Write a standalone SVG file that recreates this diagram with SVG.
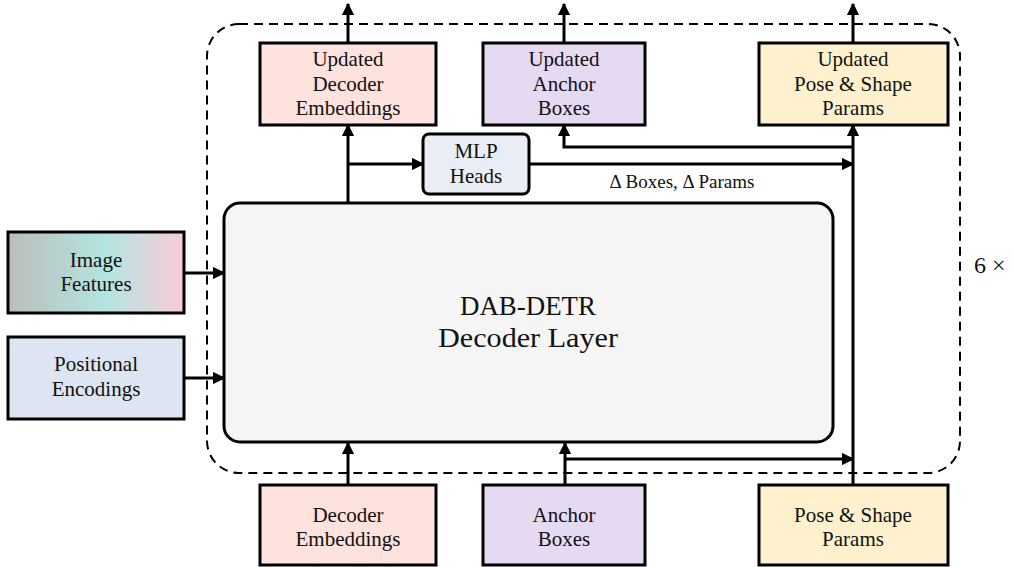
<svg xmlns="http://www.w3.org/2000/svg" width="1013" height="567" viewBox="0 0 1013 567">
  <style>
    .box { stroke: #000; stroke-width: 3; }
    .lbl { font-family: "Liberation Serif", "DejaVu Serif", serif; font-size: 21px; fill: #111; text-anchor: middle; }
    .big { font-family: "Liberation Serif", "DejaVu Serif", serif; font-size: 27px; fill: #111; text-anchor: middle; }
    .wire { fill: none; stroke: #000; stroke-width: 3; }
    .arr { marker-end: url(#head); }
  </style>
  <defs>
    <marker id="head" viewBox="0 0 10 10" refX="9" refY="5" markerWidth="4.2" markerHeight="4.2" markerUnits="strokeWidth" orient="auto">
      <path d="M0,0 L10,5 L0,10 Z" fill="#000"/>
    </marker>
    <linearGradient id="featGrad" x1="0" y1="0" x2="1" y2="0">
      <stop offset="0" stop-color="#bcbcbc"/>
      <stop offset="0.55" stop-color="#b2e5e1"/>
      <stop offset="1" stop-color="#f9cbd9"/>
    </linearGradient>
  </defs>

  <!-- repeated block boundary -->
  <rect id="repeat-frame" x="207" y="24" width="753" height="449" rx="32" fill="none" stroke="#000" stroke-width="2" stroke-dasharray="9,6"/>
  <text id="repeat-count" x="974" y="273" style="font-family:'Liberation Serif','DejaVu Serif',serif;font-size:24px;fill:#111">6 ×</text>

  <!-- connectors -->
  <g id="connectors">
    <line class="wire arr" x1="348" y1="43" x2="348" y2="4"/>
    <line class="wire arr" x1="564" y1="43" x2="564" y2="4"/>
    <line class="wire arr" x1="853" y1="43" x2="853" y2="4"/>

    <line class="wire arr" x1="348" y1="203" x2="348" y2="125"/>
    <line class="wire arr" x1="348" y1="164" x2="423" y2="164"/>
    <line class="wire arr" x1="529" y1="164" x2="853" y2="164"/>

    <line class="wire arr" x1="853" y1="485" x2="853" y2="125"/>
    <polyline class="wire arr" points="853,147 564,147 564,125"/>

    <line class="wire arr" x1="184" y1="273" x2="224" y2="273"/>
    <line class="wire arr" x1="184" y1="378" x2="224" y2="378"/>

    <line class="wire arr" x1="348" y1="485" x2="348" y2="443"/>
    <line class="wire arr" x1="565" y1="485" x2="565" y2="443"/>
    <line class="wire arr" x1="565" y1="459" x2="853" y2="459"/>
  </g>
  <text id="delta-label" class="lbl" x="682" y="188" style="font-size:19px">Δ Boxes, Δ Params</text>

  <!-- decoder layer -->
  <g id="decoder-layer">
    <rect class="box" x="224" y="203" width="609" height="239" rx="16" fill="#f5f5f5"/>
    <text class="big" x="528" y="315" textLength="136" lengthAdjust="spacingAndGlyphs">DAB-DETR</text>
    <text class="big" x="528" y="347" textLength="180" lengthAdjust="spacingAndGlyphs">Decoder Layer</text>
  </g>

  <g id="mlp-heads">
    <rect class="box" x="423" y="134" width="106" height="60" rx="6" fill="#e9eef6"/>
    <text class="lbl" x="476" y="158">MLP</text>
    <text class="lbl" x="476" y="183">Heads</text>
  </g>

  <!-- outputs -->
  <g id="updated-embeddings">
    <rect class="box" x="260" y="43" width="176" height="82" fill="#fde2de"/>
    <text class="lbl" x="348" y="66">Updated</text>
    <text class="lbl" x="348" y="91">Decoder</text>
    <text class="lbl" x="348" y="115">Embeddings</text>
  </g>
  <g id="updated-anchors">
    <rect class="box" x="483" y="43" width="162" height="82" fill="#e6daf3"/>
    <text class="lbl" x="564" y="66">Updated</text>
    <text class="lbl" x="564" y="91">Anchor</text>
    <text class="lbl" x="564" y="115">Boxes</text>
  </g>
  <g id="updated-params">
    <rect class="box" x="759" y="43" width="189" height="82" fill="#fff1cd"/>
    <text class="lbl" x="853" y="66">Updated</text>
    <text class="lbl" x="853" y="91">Pose &amp; Shape</text>
    <text class="lbl" x="853" y="115">Params</text>
  </g>

  <!-- inputs -->
  <g id="image-features">
    <rect class="box" x="8" y="232" width="176" height="81" fill="url(#featGrad)"/>
    <text class="lbl" x="96" y="267">Image</text>
    <text class="lbl" x="96" y="291">Features</text>
  </g>
  <g id="positional-encodings">
    <rect class="box" x="8" y="337" width="176" height="82" fill="#dee5f2"/>
    <text class="lbl" x="96" y="371">Positional</text>
    <text class="lbl" x="96" y="396">Encodings</text>
  </g>
  <g id="decoder-embeddings">
    <rect class="box" x="260" y="485" width="176" height="80" fill="#fde2de"/>
    <text class="lbl" x="348" y="522">Decoder</text>
    <text class="lbl" x="348" y="546">Embeddings</text>
  </g>
  <g id="anchor-boxes">
    <rect class="box" x="483" y="485" width="162" height="80" fill="#e6daf3"/>
    <text class="lbl" x="564" y="522">Anchor</text>
    <text class="lbl" x="564" y="546">Boxes</text>
  </g>
  <g id="pose-shape-params">
    <rect class="box" x="759" y="485" width="189" height="80" fill="#fff1cd"/>
    <text class="lbl" x="853" y="522">Pose &amp; Shape</text>
    <text class="lbl" x="853" y="546">Params</text>
  </g>
</svg>
